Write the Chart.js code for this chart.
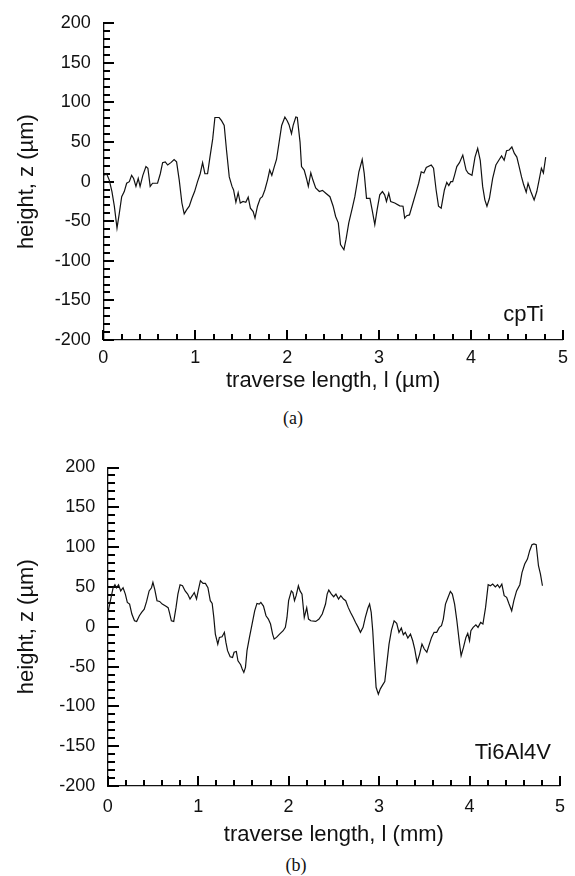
<!DOCTYPE html>
<html><head><meta charset="utf-8">
<script src="https://cdn.jsdelivr.net/npm/chart.js@4.4.0/dist/chart.umd.min.js"></script>
<style>
html,body{margin:0;padding:0;background:#fff;width:575px;height:876px;overflow:hidden;}
.panel{position:absolute;left:0;width:575px;}
.cap{position:absolute;font-family:"Liberation Serif","Times New Roman",serif;font-size:18px;color:#111;transform:translate(-50%,-50%);white-space:nowrap;}
</style></head><body>
<div class="panel" style="top:0;height:400px"><canvas id="c1" width="575" height="400"></canvas></div>
<div class="cap" style="left:293px;top:418px">(a)</div>
<div class="panel" style="top:430px;height:420px"><canvas id="c2" width="575" height="420"></canvas></div>
<div class="cap" style="left:296px;top:865px">(b)</div>
<script>
const xTickValues = [0, 1, 2, 3, 4, 5];
const yTickValues = [-200, -150, -100, -50, 0, 50, 100, 150, 200];
const xMinorTicks = [0,0.2,0.4,0.6,0.8,1,1.2,1.4,1.6,1.8,2,2.2,2.4,2.6,2.8,3,3.2,3.4,3.6,3.8,4,4.2,4.4,4.6,4.8,5];
const yMinorTicks = [-200,-190,-180,-170,-160,-150,-140,-130,-120,-110,-100,-90,-80,-70,-60,-50,-40,-30,-20,-10,0,
 10,20,30,40,50,60,70,80,90,100,110,120,130,140,150,160,170,180,190,200];

const cpTiX = [0.01,0.036,0.065,0.094,0.12,0.149,0.174,0.2,0.228,0.254,
 0.283,0.308,0.33,0.355,0.38,0.4,0.43,0.464,0.485,0.51,
 0.536,0.59,0.62,0.645,0.674,0.7,0.735,0.77,0.797,0.826,
 0.855,0.88,0.906,0.935,0.964,0.993,1.025,1.054,1.08,1.105,
 1.134,1.16,1.19,1.214,1.26,1.286,1.315,1.34,1.37,1.4,
 1.417,1.442,1.467,1.49,1.52,1.55,1.576,1.6,1.63,1.65,
 1.677,1.707,1.73,1.757,1.786,1.81,1.833,1.86,1.884,1.91,
 1.94,1.975,2.0,2.02,2.047,2.065,2.094,2.11,2.14,2.156,
 2.185,2.21,2.23,2.257,2.28,2.31,2.35,2.384,2.42,2.465,
 2.5,2.527,2.556,2.58,2.617,2.64,2.67,2.708,2.736,2.76,
 2.78,2.816,2.838,2.863,2.9,2.924,2.953,2.978,3.007,3.036,
 3.06,3.08,3.105,3.126,3.17,3.224,3.26,3.278,3.3,3.33,
 3.368,3.404,3.43,3.458,3.487,3.513,3.567,3.592,3.62,3.646,
 3.675,3.71,3.736,3.758,3.78,3.8,3.82,3.845,3.874,3.91,
 3.946,3.97,4.01,4.043,4.072,4.1,4.126,4.15,4.173,4.2,
 4.235,4.27,4.307,4.332,4.36,4.386,4.415,4.444,4.47,4.498,
 4.523,4.549,4.57,4.6,4.62,4.65,4.686,4.715,4.74,4.765,
 4.787,4.812];
const cpTiZ = [8,10,2,-12.5,-31,-58.6,-40,-19,-12.5,-2,
 0,8,4,-6,4,-6,8,19,17,-6,
 -2,-2,10,24,25,21,24,28,25,2,
 -27,-40.6,-35.6,-31,-21,-12.5,0,10,24,10,
 10,31,54,81,81,77,71,40,6,-6,
 -10.5,-26,-14,-27,-25,-26,-19.7,-33.5,-37.7,-46,
 -31,-21,-19,-10.5,2,14.6,8,19,28,48,
 71,81.6,77,72,60.7,71,81.6,81,50,19,
 14.6,4,-6,11,2,-8,-12.5,-11,-14.6,-19,
 -31,-44,-52,-79.5,-86,-73,-52,-33.5,-19,-2,
 12.5,28,10.5,-21,-21,-35.6,-54.4,-35.6,-16.7,-12.5,
 -16.7,-25,-14.6,-25,-27,-30.5,-31,-46,-43,-42,
 -27,-12.5,-2,12.5,11,18,21,17,-10.5,-31,
 -33.5,-10.5,-1,-5,0,0,8,19,24,33.5,
 14.6,10.5,8,31,42,27,-6,-23,-31,-21,
 4,21,28,32.6,27,39,40,44,36,31,
 19,6,-3,-13.4,-2,-12.5,-23,-12.5,2,17,
 11,31];

const ti64X = [0.007,0.03,0.06,0.08,0.097,0.12,0.144,0.17,0.195,0.217,
 0.242,0.267,0.296,0.32,0.35,0.375,0.404,0.43,0.458,0.484,
 0.5,0.52,0.545,0.574,0.603,0.64,0.668,0.682,0.704,0.73,
 0.755,0.776,0.8,0.827,0.856,0.884,0.91,0.935,0.957,0.982,
 1.0,1.025,1.054,1.08,1.108,1.134,1.155,1.173,1.19,1.217,
 1.235,1.264,1.29,1.307,1.325,1.354,1.38,1.397,1.422,1.44,
 1.47,1.487,1.505,1.523,1.54,1.567,1.596,1.625,1.65,1.675,
 1.693,1.722,1.75,1.776,1.8,1.823,1.84,1.866,1.9,1.94,
 1.964,1.982,2.0,2.03,2.047,2.065,2.083,2.108,2.126,2.148,
 2.173,2.2,2.22,2.245,2.3,2.336,2.372,2.408,2.426,2.444,
 2.473,2.498,2.523,2.552,2.577,2.606,2.631,2.66,2.685,2.714,
 2.74,2.769,2.794,2.823,2.848,2.877,2.895,2.913,2.93,2.949,
 2.967,2.992,3.014,3.04,3.063,3.085,3.11,3.137,3.166,3.195,
 3.22,3.246,3.268,3.29,3.318,3.347,3.372,3.394,3.42,3.448,
 3.474,3.5,3.528,3.556,3.58,3.608,3.637,3.666,3.69,3.71,
 3.734,3.763,3.788,3.81,3.835,3.86,3.89,3.907,3.933,3.96,
 3.98,4.0,4.015,4.04,4.07,4.094,4.123,4.148,4.177,4.206,
 4.231,4.256,4.285,4.31,4.332,4.357,4.383,4.41,4.437,4.466,
 4.49,4.52,4.556,4.58,4.61,4.64,4.665,4.69,4.712,4.737,
 4.762,4.784,4.806];
const ti64Z = [20,32.7,49,52.8,49,52.8,45,49,41,30.6,
 28.5,16,7.5,6.7,13.8,18,22,31.8,45,49,
 55.7,47,32.7,31.8,28.5,26,24,18,7.5,6.7,
 24,41,52.8,51.5,45,41,34.8,39,43,34.8,
 45,57.8,54.4,54.4,49,32.7,29.3,11.7,-9.2,-21.8,
 -13.4,-12.6,-7,-19.7,-30,-37.7,-38.5,-32,-31,-42.7,
 -47.7,-53,-57.4,-51,-30,-13.4,3.4,20,29.3,28.5,
 30.6,26,13.8,9.6,3.4,-9.2,-15.5,-13.4,-9.2,-5,
 -0.8,11.7,32.7,45,43,32.7,39,51.5,45,41,
 11.7,24,9.6,7.5,6.7,9.6,16,28.5,41,46,
 41,37.7,41,34.8,39,34.8,32.7,24,18,11.7,
 5.4,-0.8,-7,-0.8,11.7,23.5,28.5,18,-5,-42.7,
 -76,-84.6,-78,-73,-68.7,-47,-21.8,-4.2,7.5,4.2,
 -7,-1.7,-10,-7,-14.2,-9.2,-17.6,-28,-44.8,-34.3,
 -21.8,-28,-32,-21.8,-13.4,-7,-7,-0.8,1.3,9.6,
 28.5,37,44.4,41,28.5,7.5,-21.8,-36.4,-26,-13.4,
 -8.4,-17.6,-5,-0.8,2.5,-0.8,5.4,3.4,24,52.8,
 51.5,53.6,50,52.8,49,53.6,39,37,28.5,20,
 32.7,45,52.8,68,78.7,85,95.5,103,104,103,
 76.6,66,51.5];

const FONT = '"Liberation Sans", Arial, Helvetica, sans-serif';
const INK = '#111111';

const tickPlugin = {
  id: 'tickPlugin',
  beforeDatasetsDraw(chart) {
    const ctx = chart.ctx;
    const a = chart.chartArea;
    const xs = chart.scales.x, ys = chart.scales.y;
    const left = Math.round(a.left);
    const bottom = Math.round(a.bottom);
    ctx.save();
    ctx.fillStyle = '#000000';
    for (let i = 0; i < yMinorTicks.length; i++) {
      const v = yMinorTicks[i];
      const py = Math.round(ys.getPixelForValue(v));
      const len = (yTickValues.indexOf(v) >= 0) ? 11 : 7;
      ctx.fillRect(left, py - 1, len, 2);
    }
    for (let i = 0; i < xMinorTicks.length; i++) {
      const px = Math.round(xs.getPixelForValue(xMinorTicks[i]));
      const len = (i % 5 === 0) ? 10 : 6;
      ctx.fillRect(px - 1, bottom - len, 2, len);
    }
    ctx.restore();
  }
};

const labelPlugin = {
  id: 'labelPlugin',
  afterDraw(chart, args, opts) {
    const ctx = chart.ctx;
    ctx.save();
    ctx.fillStyle = INK;
    ctx.font = '22px ' + FONT;
    ctx.textAlign = 'right';
    ctx.textBaseline = 'alphabetic';
    ctx.fillText(opts.text, chart.scales.x.getPixelForValue(opts.x), chart.scales.y.getPixelForValue(opts.y));
    ctx.restore();
  }
};

function makeChart(id, xv, zv, xTitle, label, t) {
  const data = xv.map((v, i) => ({x: v, y: zv[i]}));
  let pad = {left: 0, right: 4, top: t.top - 10, bottom: 0};
  const chart = new Chart(document.getElementById(id), {
    type: 'line',
    data: {datasets: [{data, borderColor: INK, borderWidth: 1.2, pointRadius: 0, tension: 0, fill: false}]},
    options: {
      responsive: false, animation: false, events: [],
      layout: {padding: pad},
      plugins: {legend: {display: false}, tooltip: {enabled: false},
        labelPlugin: {text: label.text, x: label.x, y: label.y}},
      scales: {
        x: {
          type: 'linear', min: 0, max: 5,
          afterBuildTicks(s) { s.ticks = xTickValues.map(v => ({value: v})); },
          afterFit(s) { s.height = t.xh; },
          ticks: {font: {family: FONT, size: 18}, color: INK, padding: t.xpad, maxRotation: 0, autoSkip: false},
          grid: {display: false, drawTicks: false},
          border: {display: true, color: INK, width: 1.3},
          title: {display: true, text: xTitle, color: INK, font: {family: FONT, size: 22, lineHeight: 1.2}, padding: {top: 0, bottom: t.tpad}}
        },
        y: {
          type: 'linear', min: -200, max: 200,
          afterBuildTicks(s) { s.ticks = yTickValues.map(v => ({value: v})); },
          afterFit(s) { s.width = t.left; },
          ticks: {font: {family: FONT, size: 18}, color: INK, padding: 12.5, autoSkip: false},
          grid: {display: false, drawTicks: false},
          border: {display: true, color: INK, width: 1.3},
          title: {display: true, text: 'height, z (µm)', color: INK, font: {family: FONT, size: 22, lineHeight: 1.2}, padding: {top: 14, bottom: 0}}
        }
      }
    },
    plugins: [tickPlugin, labelPlugin]
  });
  for (let k = 0; k < 3; k++) {
    const ca = chart.chartArea;
    pad = {left: pad.left, right: pad.right + (ca.right - t.right), top: pad.top + (t.top - ca.top), bottom: pad.bottom};
    chart.options.layout.padding = pad;
    chart.update('none');
  }
  return chart;
}

makeChart('c1', cpTiX, cpTiZ, 'traverse length, l (µm)', {text: 'cpTi', x: 4.793, y: -176},
  {left: 103.3, right: 564, top: 22, xh: 60, xpad: 7, tpad: 5.8});
makeChart('c2', ti64X, ti64Z, 'traverse length, l (mm)', {text: 'Ti6Al4V', x: 4.90, y: -166},
  {left: 107.7, right: 569, top: 37.5, xh: 64, xpad: 10, tpad: 1.8});
</script>
</body></html>
